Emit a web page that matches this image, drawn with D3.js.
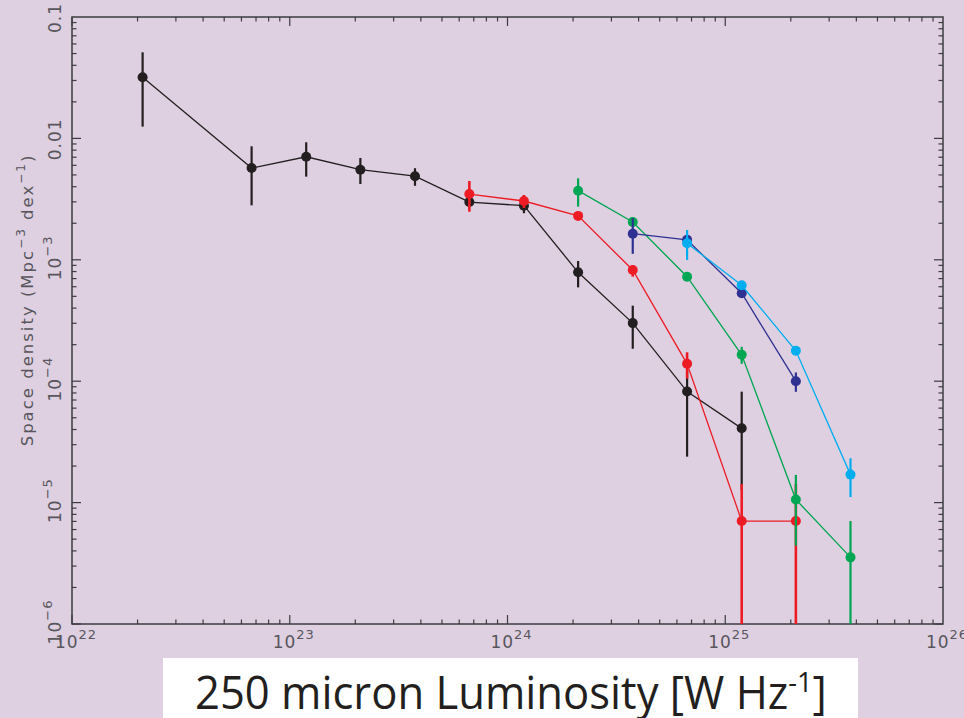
<!DOCTYPE html>
<html>
<head>
<meta charset="utf-8">
<script src="https://cdn.jsdelivr.net/npm/d3@7"></script>
<style>
  body { margin: 0; background: #ded0e1; }
  svg { display: block; }
</style>
</head>
<body>
<div id="vis"></div>
<script>
// Luminosity function at 250 micron, one series per redshift slice.
// Luminosity bin centres in W/Hz, densities in Mpc^-3 dex^-1.
var blackLum = [2.11e22, 6.68e22, 1.19e23, 2.11e23, 3.76e23, 6.68e23, 1.19e24, 2.11e24, 3.76e24, 6.68e24, 1.19e25];
var blackDen = [0.0319, 0.0057, 0.00706, 0.00552, 0.00488, 0.00299, 0.00279, 7.89e-4, 3.01e-4, 8.22e-5, 4.09e-5];
var blackHi  = [0.0512, 0.00861, 0.00929, 0.0069, 0.00568, 0.0032, 0.00342, 9.77e-4, 4.19e-4, 1.24e-4, 8.2e-5];
var blackLo  = [0.0125, 0.00281, 0.00484, 0.00421, 0.00407, 0.0028, 0.00242, 5.93e-4, 1.85e-4, 2.39e-5, 1.27e-5];

var redLum = [6.68e23, 1.19e24, 2.11e24, 3.76e24, 6.68e24, 1.19e25, 2.11e25];
var redDen = [0.00348, 0.00305, 0.0023, 8.24e-4, 1.39e-4, 7.05e-6, 7.05e-6];
var redHi  = [0.00446, 0.00342, 0.0024, 8.93e-4, 1.73e-4, 1.42e-5, 1.42e-5];
var redLo  = [0.00249, 0.00267, 0.0022, 7.26e-4, 1.05e-4, 0, 0];

var greenLum = [2.11e24, 3.76e24, 6.68e24, 1.19e25, 2.11e25, 3.76e25];
var greenDen = [0.00371, 0.00205, 7.26e-4, 1.65e-4, 1.06e-5, 3.54e-6];
var greenHi  = [0.00469, 0.00215, 7.6e-4, 1.92e-4, 1.69e-5, 7.05e-6];
var greenLo  = [0.00274, 0.00195, 6.9e-4, 1.39e-4, 4.42e-6, 0];

var blueLum = [3.76e24, 6.68e24, 1.19e25, 2.11e25];
var blueDen = [1.64e-3, 1.46e-3, 5.3e-4, 1.0e-4];
var blueHi  = [2.2e-3, 1.55e-3, 5.6e-4, 1.18e-4];
var blueLo  = [1.12e-3, 1.37e-3, 5.0e-4, 8.18e-5];

var cyanLum = [6.68e24, 1.19e25, 2.11e25, 3.76e25];
var cyanDen = [1.37e-3, 6.17e-4, 1.78e-4, 1.7e-5];
var cyanHi  = [1.76e-3, 6.5e-4, 1.9e-4, 2.32e-5];
var cyanLo  = [9.95e-4, 5.8e-4, 1.65e-4, 1.11e-5];

// tick labels
var xTickExp = [22, 23, 24, 25, 26];
var yTickLabels = [
  { v: 0.1, base: '0.1', sup: '' },
  { v: 0.01, base: '0.01', sup: '' },
  { v: 1e-3, base: '10', sup: '\u22123' },
  { v: 1e-4, base: '10', sup: '\u22124' },
  { v: 1e-5, base: '10', sup: '\u22125' },
  { v: 1e-6, base: '10', sup: '\u22126' }
];

var width = 964;
var height = 718;
// note: "top" is a read-only window global, so use plot* names
var plotLeft = 72, plotRight = 943, plotTop = 17, plotBottom = 624;
var axisColor = '#3d3b40';
var textColor = '#58565c';

var svg = d3.select('#vis').append('svg')
  .attr('width', width)
  .attr('height', height);

svg.append('rect')
  .attr('width', width)
  .attr('height', height)
  .attr('fill', '#ded0e1');

var x = d3.scaleLog().domain([1e22, 1e26]).range([plotLeft, plotRight]);
var y = d3.scaleLog().domain([1e-6, 0.1]).range([plotBottom, plotTop]);

// build the series list from the arrays above
function makeSeries(lum, den, hi, lo, color, errWidth) {
  return {
    color: color,
    errWidth: errWidth,
    points: lum.map(function (l, i) {
      return { l: l, d: den[i], hi: hi[i], lo: lo[i] };
    })
  };
}

var series = [
  makeSeries(blackLum, blackDen, blackHi, blackLo, '#231f20', 2.2),
  makeSeries(redLum, redDen, redHi, redLo, '#ed1c24', 2.6),
  makeSeries(greenLum, greenDen, greenHi, greenLo, '#00a651', 2.2),
  makeSeries(blueLum, blueDen, blueHi, blueLo, '#2e3192', 2.2),
  makeSeries(cyanLum, cyanDen, cyanHi, cyanLo, '#00aeef', 2.2)
];

// ---- ticks on all four sides, pointing inward ----
var ticks = svg.append('g')
  .attr('stroke', axisColor)
  .attr('stroke-width', 1.2);

var xMinor = [];
for (var e = 22; e < 26; e++) {
  for (var m = 1; m < 10; m++) xMinor.push({ v: m * Math.pow(10, e), major: m === 1 });
}
xMinor.forEach(function (t) {
  var px = x(t.v), len = t.major ? 9 : 4.5;
  ticks.append('line').attr('x1', px).attr('x2', px).attr('y1', plotBottom).attr('y2', plotBottom - len);
  ticks.append('line').attr('x1', px).attr('x2', px).attr('y1', plotTop).attr('y2', plotTop + len);
});

var yMinor = [];
for (var e2 = -6; e2 < -1; e2++) {
  for (var m2 = 1; m2 < 10; m2++) yMinor.push({ v: m2 * Math.pow(10, e2), major: m2 === 1 });
}
yMinor.forEach(function (t) {
  var py = y(t.v), len = t.major ? 9 : 4.5;
  ticks.append('line').attr('y1', py).attr('y2', py).attr('x1', plotLeft).attr('x2', plotLeft + len);
  ticks.append('line').attr('y1', py).attr('y2', py).attr('x1', plotRight).attr('x2', plotRight - len);
});

// frame
svg.append('rect')
  .attr('x', plotLeft)
  .attr('y', plotTop)
  .attr('width', plotRight - plotLeft)
  .attr('height', plotBottom - plotTop)
  .attr('fill', 'none')
  .attr('stroke', axisColor)
  .attr('stroke-width', 1.5);

// ---- tick labels ----
var xLab = svg.append('g')
  .attr('font-family', 'DejaVu Sans, sans-serif')
  .attr('fill', textColor)
  .attr('text-anchor', 'middle');

xTickExp.forEach(function (ex) {
  var t = xLab.append('text')
    .attr('x', x(Math.pow(10, ex)) + 4)
    .attr('y', 648)
    .attr('font-size', 17)
    .attr('letter-spacing', 1);
  t.append('tspan').text('10');
  t.append('tspan').attr('dy', -9).attr('font-size', 13).text(ex);
});

yTickLabels.forEach(function (d) {
  var t = svg.append('text')
    .attr('transform', 'translate(61,' + (y(d.v) + (d.sup ? -2 : 1)) + ') rotate(-90)')
    .attr('font-family', 'DejaVu Sans, sans-serif')
    .attr('font-size', 17)
    .attr('letter-spacing', 1)
    .attr('fill', textColor)
    .attr('text-anchor', 'middle');
  t.append('tspan').text(d.base);
  if (d.sup) t.append('tspan').attr('dy', -9).attr('font-size', 13).text(d.sup);
});

// y axis title
var yTitle = svg.append('text')
  .attr('transform', 'translate(33,300) rotate(-90)')
  .attr('font-family', 'DejaVu Sans, sans-serif')
  .attr('font-size', 16.5)
  .attr('letter-spacing', 2)
  .attr('fill', textColor)
  .attr('text-anchor', 'middle');
yTitle.append('tspan').text('Space density (Mpc');
yTitle.append('tspan').attr('dy', -8).attr('font-size', 12).text('\u22123');
yTitle.append('tspan').attr('dy', 8).text(' dex');
yTitle.append('tspan').attr('dy', -8).attr('font-size', 12).text('\u22121');
yTitle.append('tspan').attr('dy', 8).text(')');

// ---- data: line, error bars, then dots for each series ----
var line = d3.line()
  .x(function (d) { return x(d.l); })
  .y(function (d) { return y(d.d); });

series.forEach(function (s) {
  var g = svg.append('g');

  g.append('path')
    .datum(s.points)
    .attr('d', line)
    .attr('fill', 'none')
    .attr('stroke', s.color)
    .attr('stroke-width', 1.3);

  g.selectAll('line.err')
    .data(s.points)
    .enter().append('line')
    .attr('class', 'err')
    .attr('x1', function (d) { return x(d.l); })
    .attr('x2', function (d) { return x(d.l); })
    .attr('y1', function (d) { return y(d.hi); })
    .attr('y2', function (d) { return d.lo > 1e-6 ? y(d.lo) : plotBottom; })
    .attr('stroke', s.color)
    .attr('stroke-width', s.errWidth);

  g.selectAll('circle')
    .data(s.points)
    .enter().append('circle')
    .attr('cx', function (d) { return x(d.l); })
    .attr('cy', function (d) { return y(d.d); })
    .attr('r', 5)
    .attr('fill', s.color);
});

// ---- white caption box under the plot ----
svg.append('rect')
  .attr('x', 163)
  .attr('y', 658)
  .attr('width', 695)
  .attr('height', 60)
  .attr('fill', '#ffffff');

var cap = svg.append('text')
  .attr('font-family', 'Open Sans, sans-serif')
  .attr('font-size', 45)
  .attr('fill', '#231f20');
cap.append('tspan').text('250 micron Luminosity [W Hz');
cap.append('tspan').attr('dy', -17).attr('font-size', 28).text('-1');
cap.append('tspan').attr('dy', 17).text(']');

// squeeze the caption to the width it has in the original slide
var capW = cap.node().getComputedTextLength();
cap.attr('transform', 'translate(195,709) scale(' + (632 / capW) + ',1)');
</script>
</body>
</html>
